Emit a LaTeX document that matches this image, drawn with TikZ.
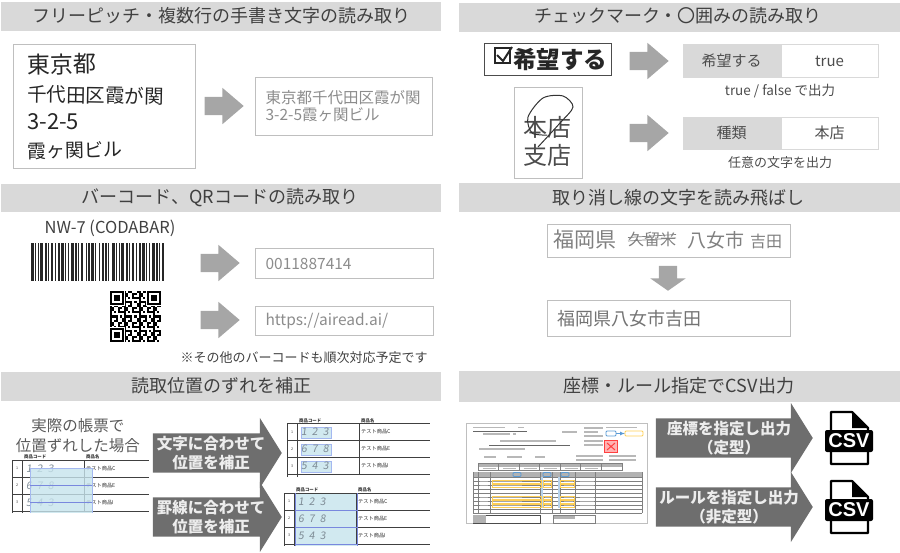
\documentclass[tikz,border=0pt]{standalone}
\usepackage{fontspec}
\setmainfont{Noto Sans CJK JP}
\newfontfamily\csvfont{Liberation Sans}
\usetikzlibrary{shapes.arrows,positioning}

\definecolor{headgray}{HTML}{D9D9D9}
\definecolor{boxgray}{HTML}{BFBFBF}
\definecolor{inkgray}{HTML}{404040}
\definecolor{outgray}{HTML}{8C8C8C}
\definecolor{arrowgray}{HTML}{A6A6A6}
\definecolor{darkarrow}{HTML}{6E6E6E}
\definecolor{wetblue}{HTML}{C6E3EC}
\definecolor{ruleblue}{HTML}{3F55D0}
\definecolor{softblue}{HTML}{A4B8F0}
\definecolor{stampyellow}{HTML}{FFCF55}
\definecolor{tagblue}{HTML}{5B9BD5}
\definecolor{pencilgray}{HTML}{7E8C96}

\newcommand{\fsz}[2]{\fontsize{#1}{#2}\selectfont}

\tikzset{
    header/.style={anchor=west, fill=headgray, minimum width=#1, minimum height=29, inner sep=0pt},
    title/.style={font=\fsz{18}{22}, text=inkgray, inner sep=0pt},
    outbox/.style={draw=boxgray, line width=1.1pt, anchor=north west, text=outgray, align=left,
        inner xsep=10pt, inner ysep=0pt, text width=#1, font=\fsz{15.5}{17}},
    hand/.style={anchor=west, inner sep=0pt, text=black!85},
    smallarrow/.style={single arrow, fill=arrowgray, inner sep=0pt, anchor=tip, text height=18pt, text depth=0pt,
        minimum height=39pt, minimum width=36pt, single arrow head extend=9pt, single arrow head indent=0pt,
        single arrow tip angle=81},
    bigarrow/.style={single arrow, fill=darkarrow, inner sep=0pt, anchor=tip, text height=39pt, text depth=0pt,
        minimum height=#1, minimum width=70pt, single arrow head extend=15.5pt, single arrow head indent=0pt,
        single arrow tip angle=116},
    biglabel/.style={font=\fsz{15.5}{19}\bfseries, text=white!93!black, align=center, inner sep=0pt},
    keycell/.style={draw=headgray, line width=1pt, fill=headgray, minimum width=97pt, minimum height=#1, inner sep=0pt,
        text=black!70, font=\fsz{15}{17}},
    valcell/.style={draw=headgray, line width=1pt, minimum width=97pt, minimum height=#1, inner sep=0pt,
        text=black!70, font=\fsz{15}{17}},
    caption/.style={inner sep=0pt, text=black!70, font=\fsz{13}{15}},
    tiny/.style={inner sep=0pt, anchor=west, font=\fsz{5.2}{6}, text=black!80},
    digits/.style={inner sep=0pt, anchor=west, xslant=0.15, font=\fsz{10.5}{12}, text=pencilgray},
    blurline/.style={black!28, line width=1.1pt},
    thinrule/.style={black!50, line width=0.35pt}
}

% one small slip form, with three rows
\newcommand{\sheet}[4]{
    \begin{scope}[shift={(#2,#3)}]
        \foreach \r in {0,1,2,3}
            \draw[line width=0.8pt, black!75] (0,\r*17) -- (#4,\r*17);
        \draw[line width=0.8pt, black!75] (0,0) -- (0,53) (10.5,0) -- (10.5,53) (72.5,0) -- (72.5,51);
        \node[tiny, font=\fsz{4.4}{5}\bfseries] (#1code) at (12,-3) {商品コード};
        \node[tiny, font=\fsz{4.4}{5}\bfseries] (#1name) at (74,-3) {商品名};
        \foreach \r/\d/\t in {1/{1\hspace{5pt}2\hspace{5pt}3}/C, 2/{6\hspace{5pt}7\hspace{5pt}8}/E, 3/{5\hspace{5pt}4\hspace{5pt}3}/I} {
            \node[tiny, font=\fsz{3.6}{4}] (#1no\r) at (4,\r*17-8.5) {\r};
            \node[digits] (#1dig\r) at (14.5,\r*17-8.5) {\d};
            \node[tiny] (#1item\r) at (74,\r*17-8.5) {テスト商品\t};
        }
    \end{scope}
}

% csv file mark
\newcommand{\csvmark}[2]{
    \begin{scope}[shift={(825,#2)}]
        \draw[line width=2.2pt, fill=white, line join=round] (6,1) -- (27,1) -- (43,17) -- (43,53) -- (6,53) -- cycle;
        \fill (27,0) -- (44,17) -- (27,17) -- cycle;
        \fill[rounded corners=2pt] (0,19) rectangle (48,41);
        \node[inner sep=0pt, text=white, font=\csvfont\fsz{20}{22}\bfseries] (#1) at (24,30) {CSV};
    \end{scope}
}

\begin{document}
\begin{tikzpicture}[x=1pt, y=-1pt, node distance=0pt and 0pt]
    \useasboundingbox (0,0) rectangle (900,552);

    % Place headers
    \node[header=440pt] (headfree) at (1,16.5) {};
    \node[header=441pt] (headcheck) at (459,17) {};
    \node[header=440pt, minimum height=28pt] (headbar) at (1,197.5) {};
    \node[header=441pt] (headstrike) at (459,197.5) {};
    \node[header=440pt] (headshift) at (1,386.5) {};
    \node[header=441pt, minimum height=31pt] (headcsv) at (459,386.5) {};
    \node[title] (titlefree) at (221,16) {フリーピッチ・複数行の手書き文字の読み取り};
    \node[title] (titlecheck) at (678,16) {チェックマーク・〇囲みの読み取り};
    \node[title] (titlebar) at (220,198) {バーコード、QRコードの読み取り};
    \node[title] (titlestrike) at (678,198) {取り消し線の文字を読み飛ばし};
    \node[title] (titleshift) at (221,386) {読取位置のずれを補正};
    \node[title] (titlecsv) at (679,386) {座標・ルール指定でCSV出力};

    % Handwriting panel
    \node[draw=boxgray, line width=1.1pt, minimum width=182pt, minimum height=124pt, anchor=north west, inner sep=0pt] (handbox) at (13,44) {};
    \node[hand, font=\fsz{23}{25}, rotate=1] (handa) at (27,65) {東京都};
    \node[hand, font=\fsz{19.5}{22}, rotate=-1] (handb) at (27,94) {千代田区霞が関};
    \node[hand, font=\fsz{22}{24}] (handc) at (27,122) {3-2-5};
    \node[hand, font=\fsz{19}{22}, rotate=1] (handd) at (27,151) {霞ヶ関ビル};
    \node[smallarrow] (arrowfree) at (244,106) {};
    \node[outbox=157pt, minimum height=58pt] (outfree) at (255,77) {東京都千代田区霞が関\\3-2-5霞ヶ関ビル};

    % Check mark and circled word
    \node[draw=black!70, line width=1pt, minimum width=127pt, minimum height=32pt, anchor=north west, inner sep=0pt] (checkbox) at (484,43) {};
    \draw[line width=1.5pt, black!85] (495,48) rectangle (510,63);
    \draw[line width=2pt, black!85] (497,55) -- (503,61) -- (512,47);
    \node[inner sep=0pt, anchor=west, font=\fsz{23.5}{26}\bfseries, text=black!85] (hope) at (513,60) {希望する};
    \node[draw=boxgray, line width=0.8pt, minimum width=68pt, minimum height=91pt, anchor=north west, inner sep=0pt] (scanbox) at (514,87) {};
    \node[inner sep=0pt, font=\fsz{24}{26}, text=black!70] (scanup) at (547,127) {本店};
    \node[inner sep=0pt, font=\fsz{24}{26}, text=black!70] (scandown) at (547,155) {支店};
    \draw[line width=1pt, black!80] plot[smooth] coordinates {(538,147) (560,123) (573,107) (563,96) (543,98) (528,117) (532,133) (547,135)};
    \node[smallarrow] (arrowcheck) at (669,61) {};
    \node[smallarrow] (arrowcircle) at (669,133) {};
    \node[keycell=33pt] (keyhope) at (731.5,61) {希望する};
    \node[valcell=33pt, right=of keyhope] (valhope) {true};
    \node[caption, font=\fsz{13.5}{15}] (caphope) at (780,91) {true / false で出力};
    \node[keycell=32pt] (keykind) at (731.5,133) {種類};
    \node[valcell=32pt, right=of keykind] (valkind) {本店};
    \node[caption] (capkind) at (780,163) {任意の文字を出力};

    % Barcode and QR code
    \node[inner sep=0pt, font=\fsz{16.5}{18}, text=inkgray] (codename) at (110,228) {NW-7 (CODABAR)};
    \xdef\barx{31}
    \foreach \i in {0,...,39} {
        \pgfmathsetmacro{\w}{mod(\i*5,3)==0 ? 2.6 : 1.3}
        \pgfmathsetmacro{\g}{mod(\i*7,4)==1 ? 2.5 : 1.35}
        \fill[black!85] (\barx,243) rectangle ++(\w,38);
        \pgfmathsetmacro{\nx}{\barx+\w+\g}
        \xdef\barx{\nx}
    }
    \foreach \r in {0,...,24}
        \foreach \c in {0,...,24} {
            \pgfmathtruncatemacro{\on}{mod(\r*\r*7+\c*\c*3+\r*\c*5+\c,7)<3 ? 1 : 0}
            \ifnum\on=1
                \fill (110+\c*2.04,291+\r*2.04) rectangle ++(2.04,2.04);
            \fi
        }
    \foreach \fx/\fy in {110/291, 146.7/291, 110/327.7} {
        \fill[white] (\fx-0.5,\fy-0.5) rectangle ++(15.3,15.3);
        \draw[line width=2pt] (\fx+1,\fy+1) rectangle ++(12.3,12.3);
        \fill (\fx+4,\fy+4) rectangle ++(6.2,6.2);
    }
    \node[smallarrow] (arrowbar) at (240,263) {};
    \node[smallarrow] (arrowqr) at (240,320) {};
    \node[outbox=158pt, minimum height=30pt] (outbar) at (255,248) {0011887414};
    \node[outbox=158pt, minimum height=29pt] (outqr) at (255,306) {https://airead.ai/};
    \node[inner sep=0pt, font=\fsz{13}{15}, text=inkgray] (barnote) at (304,358) {※その他のバーコードも順次対応予定です};

    % Struck out words
    \node[draw=boxgray, line width=1.1pt, minimum width=243pt, minimum height=33pt, anchor=north west, inner sep=0pt] (strikebox) at (547,224) {};
    \node[hand, font=\fsz{21}{24}, text=black!50] (pref) at (553,240) {福岡県};
    \node[hand, font=\fsz{16}{18}, text=black!50] (gone) at (628,239) {久留米};
    \node[hand, font=\fsz{19}{21}, text=black!50] (town) at (687,240) {八女市};
    \node[hand, font=\fsz{16}{18}, text=black!50] (area) at (750,241) {吉田};
    \draw[line width=0.7pt, black!50] (gone.west) ++(0,-1.5) -- ++(48,-3) (gone.west) ++(0,2) -- ++(48,-3);
    \node[single arrow, fill=arrowgray, inner sep=0pt, shape border rotate=270, anchor=tip, text width=18pt, text height=0pt, text depth=0pt,
        minimum height=25pt, minimum width=35pt, single arrow head extend=8.5pt, single arrow head indent=0pt,
        single arrow tip angle=110] (arrowstrike) at (668,291) {};
    \node[outbox=223pt, minimum height=36pt, text=black!55, font=\fsz{18}{20}] (outstrike) at (547,300) {福岡県八女市吉田};

    % Shift correction
    \node[inner sep=0pt, align=center, font=\fsz{15.5}{20}, text=black!65] (realform) at (78,436) {実際の帳票で\\位置ずれした場合};
    \sheet{slip}{12}{460}{137}
    \fill[wetblue, fill opacity=0.8] (30,468) rectangle (92,513);
    \draw[softblue, line width=0.8pt] (30,513) -- (30,468) -- (92,468) -- (92,513);
    \draw[ruleblue!70, line width=0.8pt] (30,485) -- (92,485) (30,502) -- (92,502);
    \node[bigarrow=129pt] (arrowtext) at (282,453) {};
    \node[bigarrow=129pt] (arrowrule) at (282,517) {};
    \node[biglabel] (labeltext) at (211,453) {文字に合わせて\\位置を補正};
    \node[biglabel] (labelrule) at (211,517) {罫線に合わせて\\位置を補正};
    \foreach \r in {0,1,2}
        \draw[softblue, line width=0.8pt, fill=wetblue, fill opacity=0.8] (301,427+\r*17) rectangle (331,438+\r*17);
    \sheet{fixa}{287}{423.5}{143}
    \fill[wetblue, fill opacity=0.8] (295,493) rectangle (357,546);
    \sheet{fixb}{284}{493}{146}
    \draw[ruleblue!70, line width=0.8pt] (295,546) -- (295,493) (357,493) -- (357,546) (295,510) -- (357,510) (295,527) -- (357,527) (295,544) -- (357,544);

    % Invoice
    \node[draw=boxgray, line width=1pt, minimum width=181pt, minimum height=100pt, anchor=north west, inner sep=0pt] (invoice) at (466,423) {};
    \draw[line width=0.9pt, black!60] (473,431) -- (527,431) (489,445) -- (570,445);
    \draw[blurline] (473,427.5) -- (505,427.5) (518,427.5) -- (524,427.5) (483,434) -- (510,434) (513,434) -- (516,434)
        (500,441) -- (556,441) (479,449) -- (525,449) (484,457) -- (496,457) (507,457) -- (522,457) (535,457) -- (545,457)
        (584,428) -- (603,428) (584,432) -- (598,432) (584,436) -- (603,436) (584,441) -- (603,441) (584,445) -- (603,445)
        (562,432) -- (577,432) (576,456) -- (603,456) (576,460) -- (603,460) (609,456) -- (636,456) (609,460) -- (636,460)
        (606,427.5) -- (637,427.5);
    \fill[red!30!white] (604,440) rectangle (618,453);
    \draw[red!75!white, line width=0.9pt] (604.5,440.5) rectangle (617.5,452.5);
    \draw[red!75!white, line width=1pt] (607,443) -- (615,450) (615,443) -- (607,450);
    \draw[tagblue, line width=0.9pt, rounded corners=1pt] (606,431) rectangle (616,436);
    \draw[tagblue, line width=0.7pt, -latex] (616,433.5) -- (625,433.5);
    \draw[stampyellow, line width=0.9pt, rounded corners=1pt] (625,431) rectangle (643,436);
    % totals table
    \fill[black!30] (478,463) rectangle (622,466.5);
    \draw[thinrule] (478,463) rectangle (622,470);
    \foreach \c in {1,...,6} {
        \draw[thinrule] (478+\c*20.5,463) -- (478+\c*20.5,470);
        \draw[blurline] (478+\c*20.5-16,468.3) -- (478+\c*20.5-3,468.3);
    }
    % goods table
    \fill[black!30] (473,472) rectangle (642,477);
    \foreach \r in {0,...,9}
        \draw[thinrule] (473,477+\r*4) -- (642,477+\r*4);
    \foreach \c in {473,478,490,540,552,560,575,595,642}
        \draw[thinrule] (\c,472) -- (\c,513);
    \draw[tagblue!45, line width=1.2pt] (542,477) -- (542,508) (559,477) -- (559,508);
    \foreach \t in {480,484,496,500,504} {
        \draw[stampyellow, line width=0.9pt] (492,\t) rectangle (541,\t+3.6);
        \draw[stampyellow, line width=0.9pt] (543,\t) rectangle (551,\t+3.6);
        \draw[stampyellow, line width=0.9pt] (560,\t) rectangle (574,\t+3.6);
        \draw[black!35, line width=1pt] (493,\t+1.8) -- (522,\t+1.8) (545,\t+1.8) -- (550,\t+1.8) (564,\t+1.8) -- (573,\t+1.8)
            (480,\t+1.8) -- (488,\t+1.8) (580,\t+1.8) -- (594,\t+1.8);
    }
    \foreach \l in {513,543,561}
        \draw[tagblue, line width=0.9pt, rounded corners=1pt] (\l,472.5) rectangle ++(8,4);
    \draw[black!70, line width=0.8pt] (473,515) rectangle (540,523);
    \fill[black!30] (473,515) rectangle (486,523);
    \fill[black!30] (553,515) rectangle (575,519);
    \draw[thinrule] (553,515) rectangle (595,523);
    \node[bigarrow=157pt] (arrowfixed) at (813,438) {};
    \node[bigarrow=157pt] (arrowfree2) at (813,507) {};
    \node[biglabel] (labelfixed) at (729,438) {座標を指定し出力\\（定型）};
    \node[biglabel] (labelfree) at (729,507) {ルールを指定し出力\\（非定型）};
    \csvmark{csvfixed}{411}
    \csvmark{csvfree}{480}
\end{tikzpicture}
\end{document}
